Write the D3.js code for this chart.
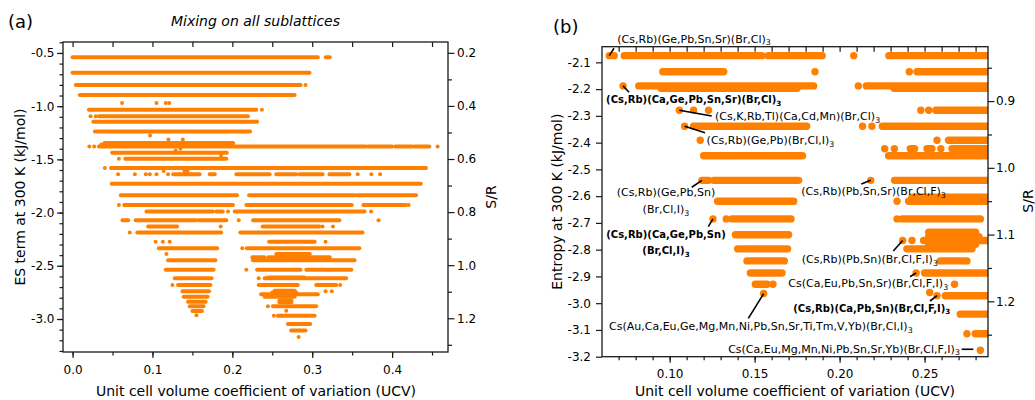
<!DOCTYPE html>
<html>
<head>
<meta charset="utf-8">
<script src="https://cdn.jsdelivr.net/npm/d3@7"></script>
<style>
  body { margin: 0; background: #fff; }
  svg { display: block; }
  text { font-family: "DejaVu Sans", sans-serif; }
</style>
</head>
<body>
<div id="chart"></div>
<script>
// ---- data ----
// panel (a): runs of dense points [ES (kJ/mol), UCV from, UCV to] and lone points [ES, UCV]
var aRuns = [
  [-0.541, 0.000, 0.307], [-0.541, 0.317, 0.322],
  [-0.687, 0.000, 0.2966],
  [-0.800, 0.004, 0.2854],
  [-0.894, 0.009, 0.278],
  [-1.033, 0.0204, 0.230],
  [-1.094, 0.033, 0.2195],
  [-1.146, 0.026, 0.231],
  [-1.238, 0.028, 0.2222],
  [-1.345, 0.040, 0.201],
  [-1.360, 0.036, 0.200],
  [-1.378, 0.033, 0.3675], [-1.378, 0.370, 0.400], [-1.378, 0.404, 0.425], [-1.378, 0.428, 0.4466],
  [-1.438, 0.0496, 0.193],
  [-1.494, 0.066, 0.1925],
  [-1.581, 0.048, 0.4425],
  [-1.640, 0.126, 0.159], [-1.640, 0.1717, 0.178], [-1.640, 0.205, 0.2467], [-1.640, 0.255, 0.280],
  [-1.640, 0.284, 0.313], [-1.640, 0.3216, 0.3466],
  [-1.728, 0.049, 0.436],
  [-1.837, 0.0604, 0.2058], [-1.837, 0.221, 0.353], [-1.837, 0.356, 0.430],
  [-1.928, 0.0646, 0.2008], [-1.928, 0.2175, 0.3495], [-1.928, 0.364, 0.4175],
  [-1.990, 0.0925, 0.1758], [-1.990, 0.180, 0.188], [-1.990, 0.203, 0.3654],
  [-2.072, 0.0625, 0.0696], [-2.072, 0.079, 0.155], [-2.072, 0.158, 0.1925], [-2.072, 0.226, 0.334],
  [-2.131, 0.0946, 0.1308], [-2.131, 0.238, 0.309],
  [-2.187, 0.081, 0.186], [-2.187, 0.210, 0.363],
  [-2.275, 0.246, 0.303],
  [-2.334, 0.108, 0.181], [-2.334, 0.218, 0.359],
  [-2.390, 0.255, 0.297],
  [-2.420, 0.225, 0.240], [-2.420, 0.245, 0.322],
  [-2.447, 0.1196, 0.1788], [-2.447, 0.2258, 0.353],
  [-2.538, 0.1166, 0.1766], [-2.538, 0.231, 0.2855], [-2.538, 0.2925, 0.349],
  [-2.610, 0.245, 0.290],
  [-2.618, 0.128, 0.174], [-2.618, 0.2405, 0.3425],
  [-2.681, 0.132, 0.1725], [-2.681, 0.233, 0.282], [-2.681, 0.305, 0.330],
  [-2.735, 0.253, 0.278],
  [-2.740, 0.1375, 0.1708],
  [-2.752, 0.250, 0.280],
  [-2.768, 0.236, 0.307],
  [-2.790, 0.139, 0.169], [-2.790, 0.2405, 0.278],
  [-2.825, 0.259, 0.274],
  [-2.837, 0.1446, 0.1666], [-2.843, 0.259, 0.274],
  [-2.881, 0.1466, 0.164], [-2.881, 0.2508, 0.305],
  [-2.925, 0.150, 0.162],
  [-2.969, 0.257, 0.303],
  [-3.047, 0.2695, 0.2975],
  [-3.109, 0.2737, 0.2917]
];
var aDots = [
  [-0.800, 0.2916], [-1.033, 0.237],
  [-0.970, 0.062], [-0.970, 0.105], [-0.970, 0.1166], [-0.970, 0.121],
  [-1.094, 0.0225], [-1.094, 0.029],
  [-1.275, 0.097], [-1.313, 0.120], [-1.313, 0.138],
  [-1.378, 0.021], [-1.378, 0.027], [-1.378, 0.457],
  [-1.400, 0.135], [-1.416, 0.129],
  [-1.469, 0.186], [-1.494, 0.058], [-1.581, 0.0404],
  [-1.610, 0.114], [-1.610, 0.140], [-1.610, 0.144],
  [-1.640, 0.057], [-1.640, 0.078], [-1.640, 0.0917], [-1.640, 0.0967], [-1.640, 0.105],
  [-1.640, 0.1195], [-1.640, 0.357], [-1.640, 0.374], [-1.640, 0.385],
  [-1.928, 0.058], [-1.928, 0.4208],
  [-1.990, 0.1946], [-1.990, 0.3737],
  [-2.072, 0.208], [-2.072, 0.383],
  [-2.131, 0.1854], [-2.131, 0.313], [-2.131, 0.326],
  [-2.187, 0.0716],
  [-2.275, 0.104], [-2.275, 0.113], [-2.275, 0.1216], [-2.275, 0.3167],
  [-2.334, 0.2125], [-2.390, 0.1175], [-2.538, 0.2175], [-2.618, 0.233],
  [-2.681, 0.125], [-2.681, 0.335],
  [-2.740, 0.3167], [-2.740, 0.3245],
  [-2.881, 0.2446], [-2.922, 0.2675], [-2.965, 0.155], [-2.969, 0.252], [-3.169, 0.283]
];

// panel (b): zoom on the low-entropy end
var bRuns = [
  [-2.075, 0.0645, 0.0674], [-2.075, 0.0733, 0.1543], [-2.075, 0.158, 0.1897], [-2.075, 0.229, 0.295],
  [-2.135, 0.096, 0.1318], [-2.135, 0.2455, 0.295],
  [-2.188, 0.0818, 0.1847], [-2.188, 0.2157, 0.295],
  [-2.197, 0.095, 0.175], [-2.197, 0.232, 0.295],
  [-2.279, 0.2566, 0.295],
  [-2.339, 0.1141, 0.1806], [-2.339, 0.2251, 0.295],
  [-2.391, 0.2641, 0.295],
  [-2.423, 0.2416, 0.2441], [-2.423, 0.2514, 0.2543], [-2.423, 0.2661, 0.295],
  [-2.449, 0.120, 0.1782], [-2.449, 0.2288, 0.295],
  [-2.541, 0.119, 0.1229], [-2.541, 0.1259, 0.1759], [-2.541, 0.2323, 0.295],
  [-2.604, 0.2426, 0.295],
  [-2.619, 0.1282, 0.173], [-2.619, 0.2406, 0.295],
  [-2.685, 0.1367, 0.1714], [-2.685, 0.2367, 0.2828],
  [-2.735, 0.2524, 0.280],
  [-2.744, 0.1387, 0.170],
  [-2.752, 0.2524, 0.282],
  [-2.766, 0.2524, 0.295],
  [-2.780, 0.2524, 0.280],
  [-2.797, 0.140, 0.1694], [-2.797, 0.2396, 0.2779],
  [-2.842, 0.1455, 0.1675], [-2.842, 0.2592, 0.2749],
  [-2.887, 0.1475, 0.1661], [-2.887, 0.250, 0.295],
  [-2.929, 0.1504, 0.1573],
  [-2.972, 0.2622, 0.295],
  [-3.041, 0.271, 0.295],
  [-3.114, 0.2798, 0.295]
];
var bDots = [
  [-2.075, 0.2083], [-2.135, 0.1855], [-2.135, 0.241], [-2.188, 0.0726], [-2.188, 0.211],
  [-2.279, 0.1057], [-2.279, 0.1141], [-2.279, 0.1229], [-2.279, 0.2478], [-2.279, 0.2524],
  [-2.339, 0.1088], [-2.339, 0.2135], [-2.339, 0.219],
  [-2.391, 0.118], [-2.391, 0.2573],
  [-2.423, 0.2265], [-2.423, 0.2322], [-2.423, 0.2596],
  [-2.541, 0.2183], [-2.619, 0.2338],
  [-2.685, 0.1255], [-2.685, 0.1333], [-2.685, 0.2338],
  [-2.766, 0.2371], [-2.766, 0.2426], [-2.766, 0.2494],
  [-2.887, 0.245], [-2.929, 0.1608], [-2.929, 0.2676],
  [-2.960, 0.253], [-2.964, 0.1553], [-2.972, 0.2573],
  [-3.114, 0.2749], [-3.176, 0.2828]
];

// labelled compositions in (b): point, text lines [main, subscript], leader offsets, label offsets
var bLabels = [
  { x: 0.0645, y: -2.075, lines: [["(Cs,Rb)(Ge,Pb,Sn,Sr)(Br,Cl)", "3"]], lead: [0, 0, 4.7, -7.4], dx: 8, dy: -13 },
  { x: 0.0726, y: -2.188, bold: true, lines: [["(Cs,Rb)(Ca,Ge,Pb,Sn,Sr)(Br,Cl)", "3"]], lead: [0, 0, 6, 6.4], dx: -17, dy: 17.4 },
  { x: 0.1057, y: -2.279, lines: [["(Cs,K,Rb,Tl)(Ca,Cd,Mn)(Br,Cl)", "3"]], lead: [0, 0, 32.4, 5.7], dx: 35.7, dy: 9.7 },
  { x: 0.1088, y: -2.339, lines: [["(Cs,Rb)(Ge,Pb)(Br,Cl,I)", "3"]], lead: [0, 0, 20.4, 6.4], dx: 22, dy: 17.7 },
  { x: 0.119, y: -2.541, anchor: "middle", lines: [["(Cs,Rb)(Ge,Pb,Sn)", ""], ["(Br,Cl,I)", "3"]], lead: [0, 0, -10.2, 6.9], dx: -36, dy: 15.6, gap: 17.3 },
  { x: 0.1255, y: -2.685, bold: true, anchor: "middle", lines: [["(Cs,Rb)(Ca,Ge,Pb,Sn)", ""], ["(Br,Cl,I)", "3"]], lead: [0, 0, -4.7, 7.8], dx: -47, dy: 18.8, gap: 16.6 },
  { x: 0.2183, y: -2.541, lines: [["(Cs,Rb)(Pb,Sn,Sr)(Br,Cl,F)", "3"]], lead: [0, 0, -9.4, 3.6], dx: -69.4, dy: 14.6 },
  { x: 0.2371, y: -2.766, lines: [["(Cs,Rb)(Pb,Sn)(Br,Cl,F,I)", "3"]], lead: [0, 0, -9.4, 10.4], dx: -101, dy: 22.7 },
  { x: 0.245, y: -2.887, lines: [["Cs(Ca,Eu,Pb,Sn,Sr)(Br,Cl,F,I)", "3"]], lead: [0, 0, -6, 3.8], dx: -127.8, dy: 14.4 },
  { x: 0.2573, y: -2.972, bold: true, lines: [["(Cs,Rb)(Ca,Pb,Sn)(Br,Cl,F,I)", "3"]], lead: [0, 0, -7, 5.3], dx: -143.7, dy: 16 },
  { x: 0.1553, y: -2.964, lines: [["Cs(Au,Ca,Eu,Ge,Mg,Mn,Ni,Pb,Sn,Sr,Ti,Tm,V,Yb)(Br,Cl,I)", "3"]], lead: [0, 0, -15.3, 24.8], dx: -154.6, dy: 36.5 },
  { x: 0.2828, y: -3.176, anchor: "end", lines: [["Cs(Ca,Eu,Mg,Mn,Ni,Pb,Sn,Sr,Yb)(Br,Cl,F,I)", "3"]], lead: [-7, -1, -18.7, -1], dx: -20.4, dy: 2.4 }
];

// tick values
var aXTicks = [0.0, 0.1, 0.2, 0.3, 0.4];
var aYTicks = [-0.5, -1.0, -1.5, -2.0, -2.5, -3.0];
var aSTicks = [0.2, 0.4, 0.6, 0.8, 1.0, 1.2];
var bXTicks = [0.10, 0.15, 0.20, 0.25];
var bYTicks = [-2.1, -2.2, -2.3, -2.4, -2.5, -2.6, -2.7, -2.8, -2.9, -3.0, -3.1, -3.2];
var bSTicks = [0.9, 1.0, 1.1, 1.2];

var RT = 8.314 * 300 / 1000;   // kJ/mol, S/R = -ES/RT
var ORANGE = "#ff8000";
var INK = "#1a1a1a";

var svg = d3.select("#chart").append("svg")
  .attr("width", 1035).attr("height", 400)
  .style("background", "#fff");

// scales
var xA = d3.scaleLinear().domain([-0.012, 0.47]).range([63, 448]);
var yA = d3.scaleLinear().domain([-0.397, -3.31]).range([42, 352]);
var sA = d3.scaleLinear().domain([0.397 / RT, 3.31 / RT]).range([42, 352]);

var xB = d3.scaleLinear().domain([0.0602, 0.2873]).range([602, 988]);
var yB = d3.scaleLinear().domain([-2.0415, -3.2]).range([46.7, 356.7]);
var sB = d3.scaleLinear().domain([2.0415 / RT, 3.2 / RT]).range([46.7, 356.7]);

function range(a, b, st) {
  // evenly spaced minor ticks (rounded to avoid float junk)
  return d3.range(Math.round(a / st), Math.round(b / st) + 1).map(function (k) { return +(k * st).toFixed(4); });
}

function drawPoints(id, runs, dots, x, y, r) {
  var xr = x.range(), yr = y.range();
  svg.append("clipPath").attr("id", id)
    .append("rect").attr("x", xr[0]).attr("y", yr[0])
    .attr("width", xr[1] - xr[0]).attr("height", yr[1] - yr[0]);
  var g = svg.append("g").attr("clip-path", "url(#" + id + ")");
  g.selectAll("line.run").data(runs).enter().append("line")
    .attr("class", "run")
    .attr("x1", function (d) { return x(d[1]); })
    .attr("x2", function (d) { return x(d[2]); })
    .attr("y1", function (d) { return y(d[0]); })
    .attr("y2", function (d) { return y(d[0]); })
    .attr("stroke", ORANGE)
    .attr("stroke-width", 2 * r)
    .attr("stroke-linecap", "round");
  g.selectAll("circle.dot").data(dots).enter().append("circle")
    .attr("class", "dot")
    .attr("cx", function (d) { return x(d[1]); })
    .attr("cy", function (d) { return y(d[0]); })
    .attr("r", r)
    .attr("fill", ORANGE);
}

function styleAxis(sel) {
  sel.select(".domain").remove();
  sel.attr("font-size", 12).attr("font-family", "DejaVu Sans, sans-serif");
  sel.selectAll("line").attr("stroke", INK).attr("stroke-width", 1.2);
  sel.selectAll("text").attr("fill", "#000");
}

function drawAxes(p) {
  var xr = p.x.range(), yr = p.y.range();
  var g = svg.append("g");
  g.append("g").attr("transform", "translate(0," + yr[1] + ")")
    .call(d3.axisBottom(p.x).tickValues(p.xMinor).tickSize(3.5).tickFormat("")).call(styleAxis);
  g.append("g").attr("transform", "translate(0," + yr[1] + ")")
    .call(d3.axisBottom(p.x).tickValues(p.xMajor).tickSize(6).tickPadding(7).tickFormat(p.xFmt)).call(styleAxis);
  g.append("g").attr("transform", "translate(0," + yr[0] + ")")
    .call(d3.axisTop(p.x).tickValues(p.xTop).tickSize(-5).tickFormat("")).call(styleAxis);
  if (p.yMinor) {
    g.append("g").attr("transform", "translate(" + xr[0] + ",0)")
      .call(d3.axisLeft(p.y).tickValues(p.yMinor).tickSize(3.5).tickFormat("")).call(styleAxis);
  }
  g.append("g").attr("transform", "translate(" + xr[0] + ",0)")
    .call(d3.axisLeft(p.y).tickValues(p.yMajor).tickSize(6).tickPadding(p.yPad).tickFormat(p.yFmt)).call(styleAxis);
  g.append("g").attr("transform", "translate(" + xr[1] + ",0)")
    .call(d3.axisRight(p.s).tickValues(p.sMinor).tickSize(4).tickFormat("")).call(styleAxis);
  g.append("g").attr("transform", "translate(" + xr[1] + ",0)")
    .call(d3.axisRight(p.s).tickValues(p.sMajor).tickSize(6.5).tickPadding(p.sPad).tickFormat(p.sFmt)).call(styleAxis);
  g.append("rect")
    .attr("x", xr[0]).attr("y", yr[0])
    .attr("width", xr[1] - xr[0]).attr("height", yr[1] - yr[0])
    .attr("fill", "none").attr("stroke", INK).attr("stroke-width", 1.3);
}

function fmt(n) { return function (d) { return d.toFixed(n); }; }

function addText(x, y, txt, size, opts) {
  opts = opts || {};
  var t = svg.append("text")
    .attr("x", x).attr("y", y)
    .attr("font-size", size)
    .attr("text-anchor", opts.anchor || "start")
    .attr("fill", "#000")
    .text(txt);
  if (opts.rotate) t.attr("transform", "rotate(-90," + x + "," + y + ")");
  if (opts.italic) t.attr("font-style", "italic");
  return t;
}

// ---- panel (a) ----
drawPoints("clipA", aRuns, aDots.map(function (d) { return [d[0], d[1]]; }), xA, yA, 2);
drawAxes({
  x: xA, y: yA, s: sA,
  xMajor: aXTicks, xMinor: range(0, 0.45, 0.05), xTop: range(0, 0.45, 0.05), xFmt: fmt(1),
  yMajor: aYTicks, yMinor: range(-3.3, -0.4, 0.1), yFmt: fmt(1), yPad: 2.5,
  sMajor: aSTicks, sMinor: [0.3, 0.5, 0.7, 0.9, 1.1, 1.3], sFmt: fmt(1), sPad: 2.5
});
addText(8, 28, "(a)", 18);
addText(255.5, 26, "Mixing on all sublattices", 14, { anchor: "middle", italic: true });
addText(256, 396, "Unit cell volume coefficient of variation (UCV)", 14, { anchor: "middle" });
addText(25, 197, "ES term at 300 K (kJ/mol)", 14, { anchor: "middle", rotate: true });
addText(496, 197, "S/R", 14, { anchor: "middle", rotate: true });

// ---- panel (b) ----
drawPoints("clipB", bRuns, bDots, xB, yB, 3.7);
drawAxes({
  x: xB, y: yB, s: sB,
  xMajor: bXTicks, xMinor: range(0.07, 0.28, 0.01), xTop: range(0.07, 0.28, 0.01), xFmt: fmt(2),
  yMajor: bYTicks, yMinor: null, yFmt: fmt(1), yPad: 5,
  sMajor: bSTicks, sMinor: [0.85, 0.95, 1.05, 1.15, 1.25], sFmt: fmt(1), sPad: 1.5
});
addText(553, 33, "(b)", 18);
addText(795, 396, "Unit cell volume coefficient of variation (UCV)", 14, { anchor: "middle" });
addText(562, 201.7, "Entropy at 300 K (kJ/mol)", 14, { anchor: "middle", rotate: true });
addText(1033, 201, "S/R", 14, { anchor: "middle", rotate: true });

// annotations
var ann = svg.append("g");
bLabels.forEach(function (d) {
  var px = xB(d.x), py = yB(d.y);
  ann.append("line")
    .attr("x1", px + d.lead[0]).attr("y1", py + d.lead[1])
    .attr("x2", px + d.lead[2]).attr("y2", py + d.lead[3])
    .attr("stroke", "#000").attr("stroke-width", 1.6);
  d.lines.forEach(function (ln, i) {
    var t = ann.append("text")
      .attr("x", px + d.dx)
      .attr("y", py + d.dy + i * (d.gap || 0))
      .attr("text-anchor", d.anchor || "start")
      .attr("font-size", d.bold ? 10 : 11)
      .attr("font-weight", d.bold ? "bold" : "normal")
      .attr("fill", "#000");
    t.append("tspan").text(ln[0]);
    if (ln[1]) t.append("tspan").attr("font-size", "0.72em").attr("dy", "0.35em").text(ln[1]);
  });
});
</script>
</body>
</html>
